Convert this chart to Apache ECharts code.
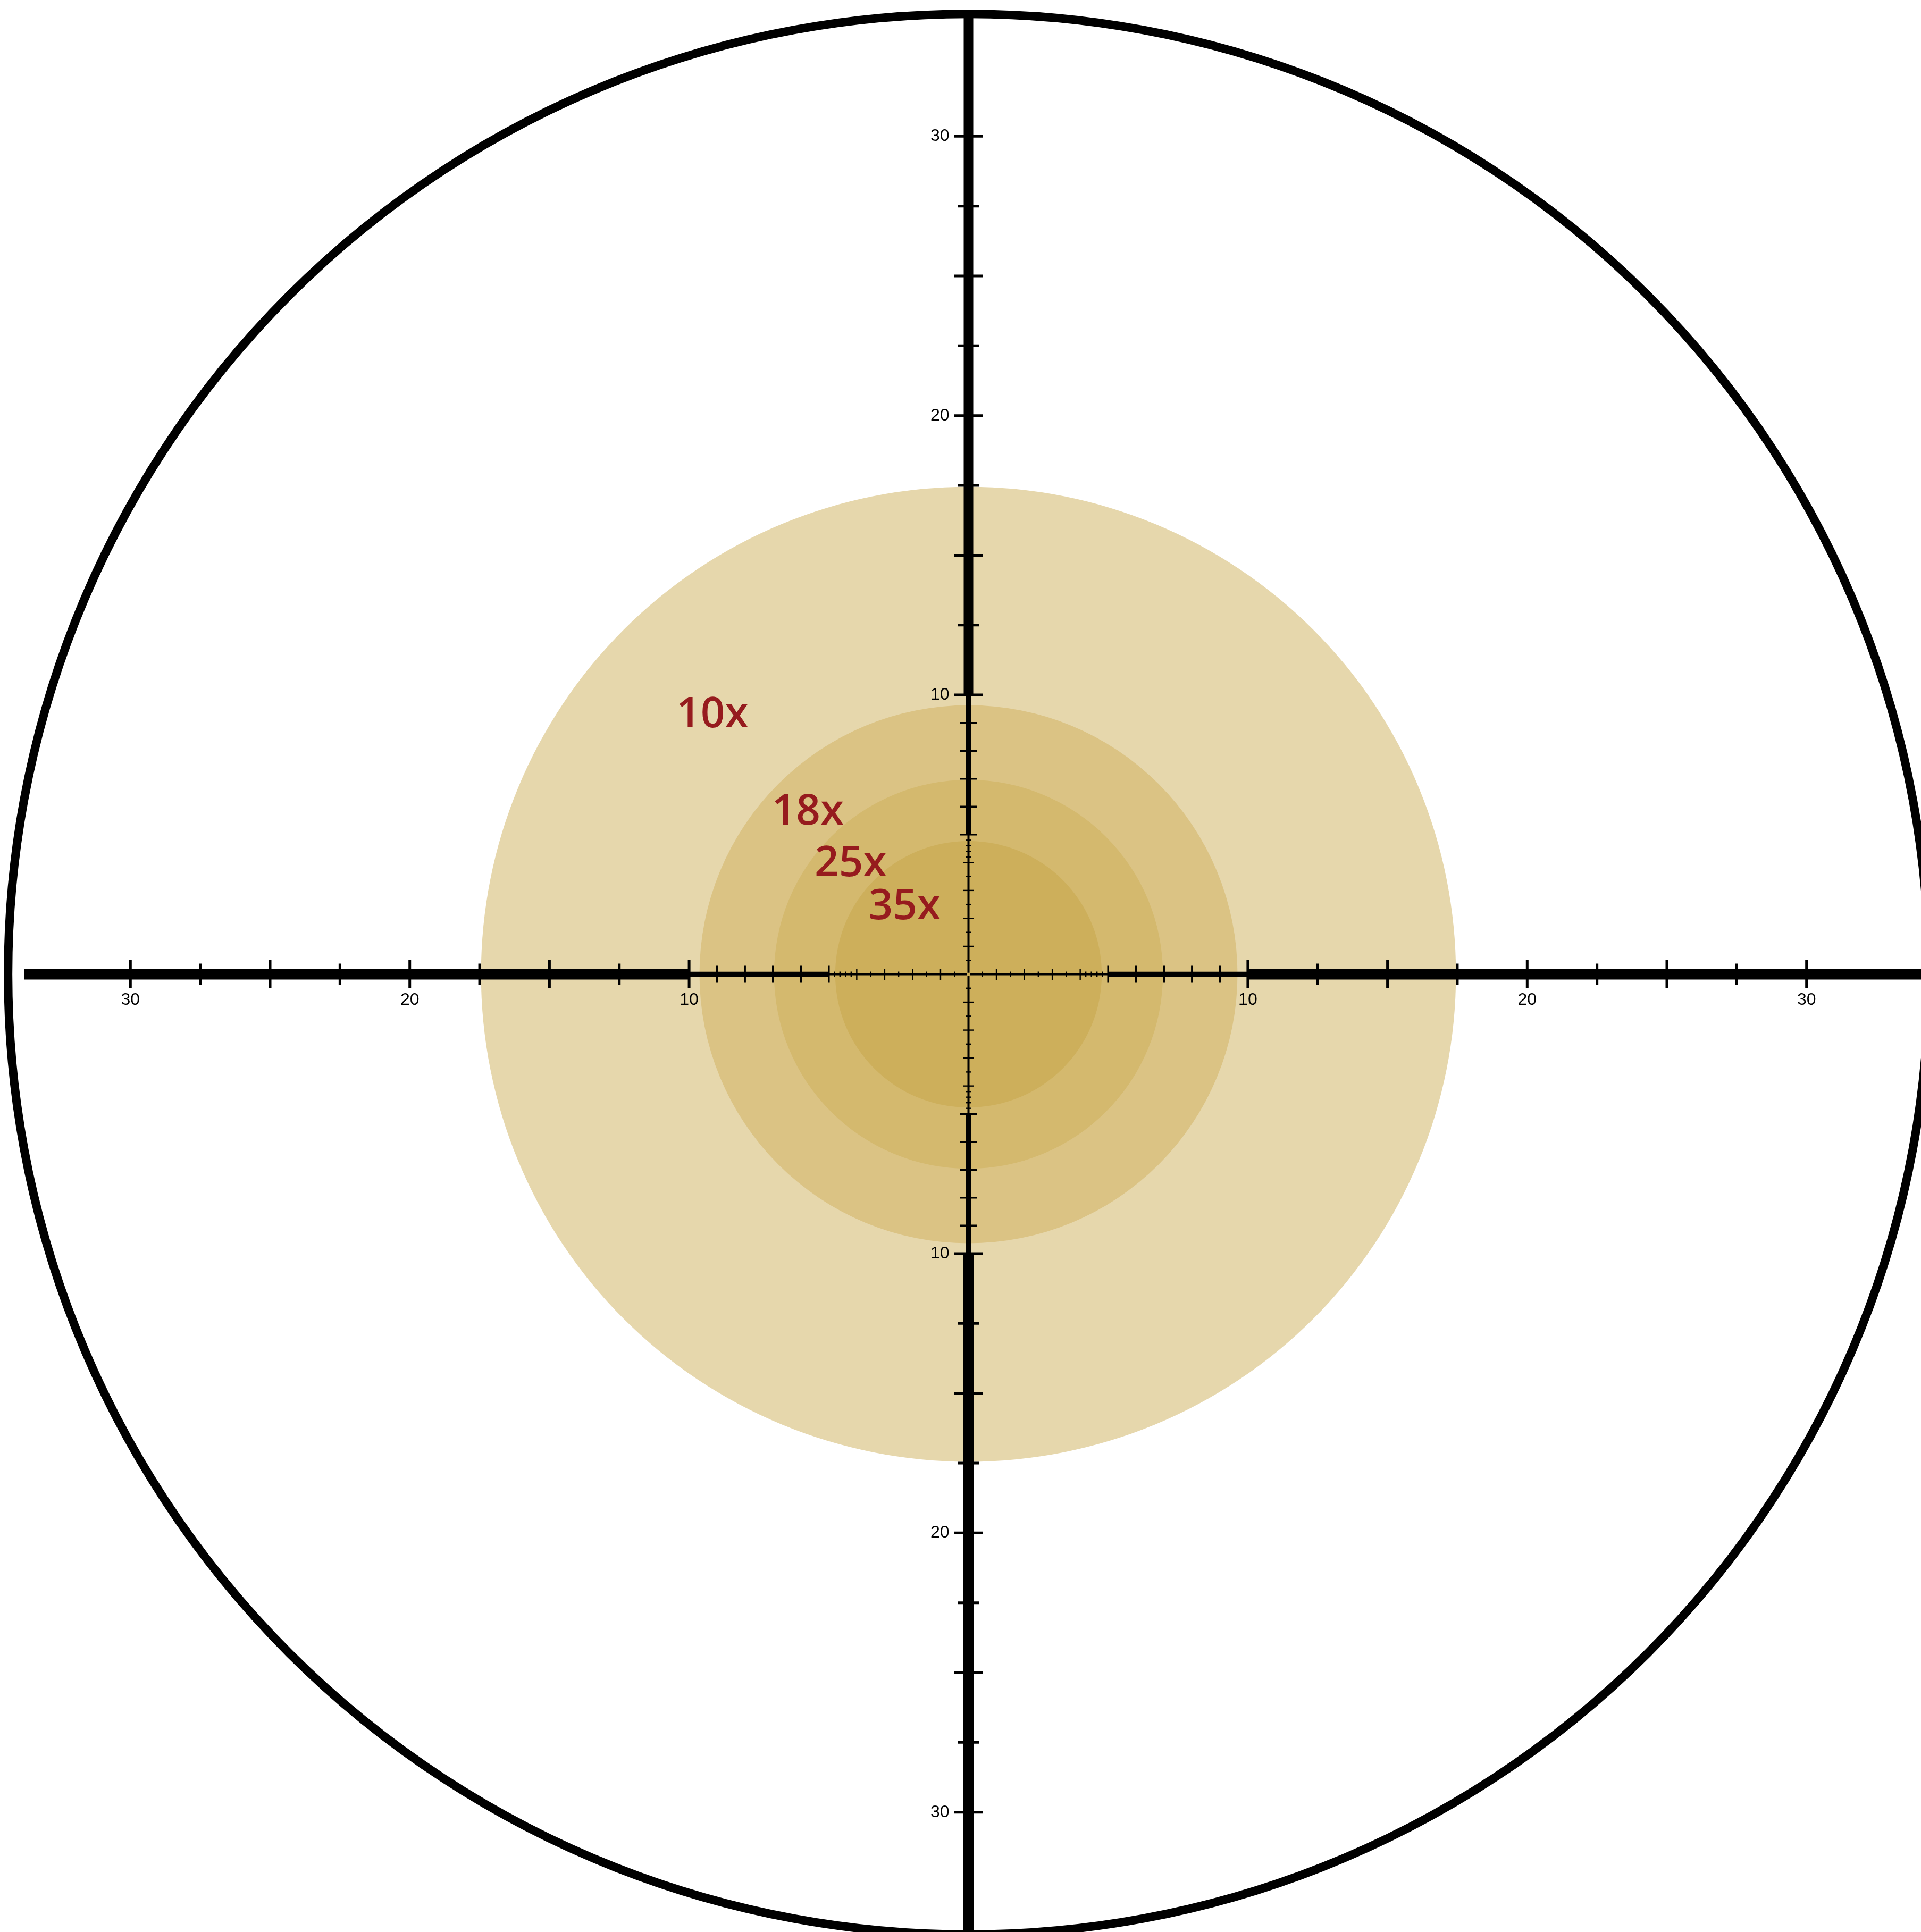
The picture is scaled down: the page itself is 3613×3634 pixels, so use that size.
<!DOCTYPE html>
<html>
<head>
<meta charset="utf-8">
<script src="https://cdn.jsdelivr.net/npm/echarts@6/dist/echarts.min.js"></script>
<style>
  html, body { margin: 0; padding: 0; background: #fff; }
  #main { width: 3613px; height: 3634px; }
</style>
</head>
<body>
<div id="main"></div>
<script>
// 放大倍率圈 (半径, 单位 MOA)
var zoomLabels = ['10x', '18x', '25x', '35x'];
var zoomRadii = [17.45, 9.63, 6.96, 4.77];
var zoomLabelPos = [[-9.17, 9.28], [-5.75, 5.80], [-4.22, 3.95], [-2.29, 2.41]];

// 外圈
var ringRadius = 34.38;

// 十字线分段
var armStops = [0.05, 5, 10];
var armEnds = { left: -33.8, right: 35, top: 34.38, bottom: -35 };

// 刻度
var outerMajor = [10, 15, 20, 25, 30];
var outerMinor = [12.5, 17.5, 22.5, 27.5];
var midTicks = [5, 6, 7, 8, 9];
var innerMajor = [1, 2, 3, 4];
var innerMinor = [0.5, 1.5, 2.5, 3.5, 4.2, 4.4, 4.6, 4.8];
var tickLabels = ['10', '20', '30'];
var tickLabelValues = [10, 20, 30];

// 样式
var discColors = ['#E6D7AC', '#DBC384', '#D4B96E', '#CDAF5B'];
var segWidths = { thin: 4, mid: 9.5, thick: 20, thickTop: 18 };
var tickStyles = [
	{ len: 53, w: 5 },
	{ len: 40, w: 5 },
	{ len: 32, w: 3.5 },
	{ len: 21, w: 2.4 },
	{ len: 10, w: 2.4 }
];

// 画布映射
var W = 3613, H = 3634, cx = 1821.5, cy = 1832.5, unit = 52.54;

var chart = echarts.init(document.getElementById('main'));

// 十字线分段数据 [x1, y1, x2, y2, 宽度类型]
var segs = [];
segs.push([-armStops[0], 0, -armStops[1], 0, 'thin']);
segs.push([-armStops[1], 0, -armStops[2], 0, 'mid']);
segs.push([-armStops[2], 0, armEnds.left, 0, 'thick']);
segs.push([armStops[0], 0, armStops[1], 0, 'thin']);
segs.push([armStops[1], 0, armStops[2], 0, 'mid']);
segs.push([armStops[2], 0, armEnds.right, 0, 'thick']);
segs.push([0, armStops[0], 0, armStops[1], 'thin']);
segs.push([0, armStops[1], 0, armStops[2], 'mid']);
segs.push([0, armStops[2], 0, armEnds.top, 'thickTop']);
segs.push([0, -armStops[0], 0, -armStops[1], 'thin']);
segs.push([0, -armStops[1], 0, -armStops[2], 'mid']);
segs.push([0, -armStops[2], 0, armEnds.bottom, 'thick']);

// 刻度数据 [x, y, 是否在横线上, 样式序号]
var ticks = [];
[outerMajor, outerMinor, midTicks, innerMajor, innerMinor].forEach(function (group, gi) {
	group.forEach(function (v) {
		ticks.push([v, 0, 1, gi]);
		ticks.push([-v, 0, 1, gi]);
		ticks.push([0, v, 0, gi]);
		ticks.push([0, -v, 0, gi]);
	});
});

// 刻度标签数据
var labelData = [];
tickLabelValues.forEach(function (v, i) {
	labelData.push([v, 0, 1, i]);
	labelData.push([-v, 0, 1, i]);
	labelData.push([0, v, 0, i]);
	labelData.push([0, -v, 0, i]);
});

chart.setOption({
	animation: false,
	backgroundColor: '#fff',
	grid: { left: 0, top: 0, right: 0, bottom: 0 },
	xAxis: { type: 'value', min: -cx / unit, max: (W - cx) / unit, show: false },
	yAxis: { type: 'value', min: -(H - cy) / unit, max: cy / unit, show: false },
	series: [
		{
			// 倍率圈
			type: 'custom',
			data: zoomRadii.map(function (r, i) { return [0, 0, r, i]; }),
			renderItem: function (params, api) {
				var c = api.coord([api.value(0), api.value(1)]);
				var r = api.size([api.value(2), 0])[0];
				return {
					type: 'circle',
					shape: { cx: c[0], cy: c[1], r: r },
					style: { fill: discColors[api.value(3)] }
				};
			}
		},
		{
			// 外圈
			type: 'custom',
			data: [[0, 0, ringRadius]],
			renderItem: function (params, api) {
				var c = api.coord([api.value(0), api.value(1)]);
				var r = api.size([api.value(2), 0])[0];
				return {
					type: 'circle',
					shape: { cx: c[0], cy: c[1], r: r },
					style: { fill: 'none', stroke: '#000', lineWidth: 16 }
				};
			}
		},
		{
			// 十字线
			type: 'custom',
			data: segs,
			renderItem: function (params, api) {
				var a = api.coord([api.value(0), api.value(1)]);
				var b = api.coord([api.value(2), api.value(3)]);
				return {
					type: 'line',
					shape: { x1: a[0], y1: a[1], x2: b[0], y2: b[1] },
					style: { stroke: '#000', lineWidth: segWidths[segs[params.dataIndex][4]], lineCap: 'butt' }
				};
			}
		},
		{
			// 刻度
			type: 'custom',
			data: ticks,
			renderItem: function (params, api) {
				var p = api.coord([api.value(0), api.value(1)]);
				var st = tickStyles[api.value(3)];
				var h = st.len / 2;
				var shape = api.value(2) === 1
					? { x1: p[0], y1: p[1] - h, x2: p[0], y2: p[1] + h }
					: { x1: p[0] - h, y1: p[1], x2: p[0] + h, y2: p[1] };
				return {
					type: 'line',
					shape: shape,
					style: { stroke: '#000', lineWidth: st.w, lineCap: 'butt' }
				};
			}
		},
		{
			// 刻度数字
			type: 'custom',
			data: labelData,
			renderItem: function (params, api) {
				var p = api.coord([api.value(0), api.value(1)]);
				var horiz = api.value(2) === 1;
				return {
					type: 'text',
					x: horiz ? p[0] : p[0] - 36,
					y: horiz ? p[1] + 49 : p[1],
					style: {
						text: tickLabels[api.value(3)],
						fill: '#000',
						font: '32px "Liberation Sans Narrow", "Liberation Sans", sans-serif',
						align: horiz ? 'center' : 'right',
						verticalAlign: 'middle'
					}
				};
			}
		},
		{
			// 倍率文字
			type: 'custom',
			data: zoomLabelPos.map(function (p, i) { return [p[0], p[1], i]; }),
			renderItem: function (params, api) {
				var p = api.coord([api.value(0), api.value(1)]);
				return {
					type: 'text',
					x: p[0],
					y: p[1],
					style: {
						text: zoomLabels[api.value(2)],
						fill: '#961B1E',
						font: '600 80px "Open Sans", sans-serif',
						align: 'center',
						verticalAlign: 'middle'
					}
				};
			}
		}
	]
});
</script>
</body>
</html>
